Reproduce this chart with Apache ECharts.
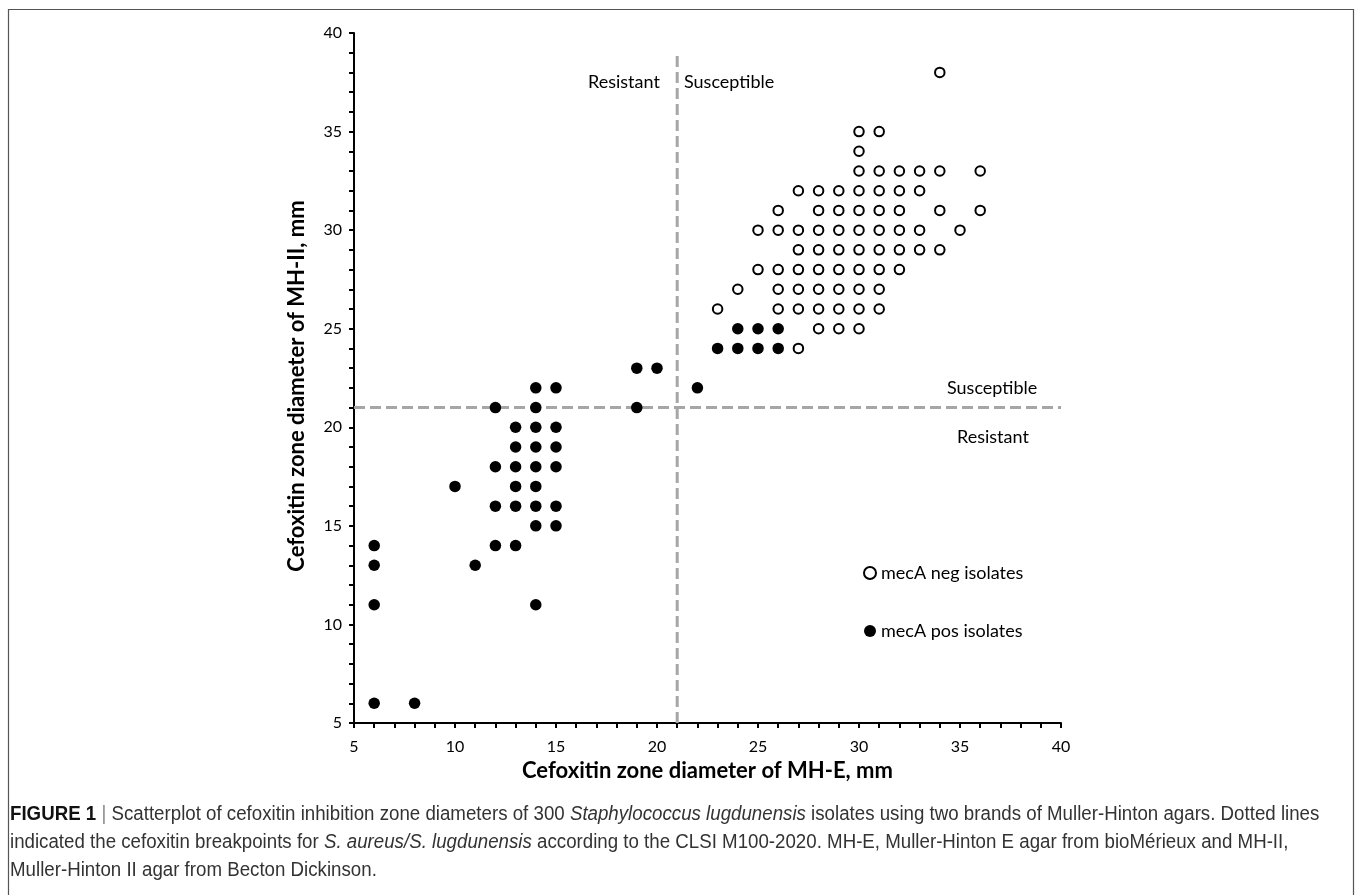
<!DOCTYPE html>
<html>
<head>
<meta charset="utf-8">
<script src="https://cdn.jsdelivr.net/npm/echarts@6/dist/echarts.min.js"></script>
<style>
html,body{margin:0;padding:0;background:#fff;}
#chart{width:1358px;height:895px;}
</style>
</head>
<body>
<div id="chart"></div>
<script>
// ---- data (zone diameters, mm) ----
const negX = [34,
  30,31,
  30,
  30,31,32,33,34,36,
  27,28,29,30,31,32,33,
  26,28,29,30,31,32,34,36,
  25,26,27,28,29,30,31,32,33,35,
  27,28,29,30,31,32,33,34,
  25,26,27,28,29,30,31,32,
  24,26,27,28,29,30,31,
  23,26,27,28,29,30,31,
  28,29,30,
  27];
const negY = [38,
  35,35,
  34,
  33,33,33,33,33,33,
  32,32,32,32,32,32,32,
  31,31,31,31,31,31,31,31,
  30,30,30,30,30,30,30,30,30,30,
  29,29,29,29,29,29,29,29,
  28,28,28,28,28,28,28,28,
  27,27,27,27,27,27,27,
  26,26,26,26,26,26,26,
  25,25,25,
  24];
const posX = [6,8, 6,14, 6,11, 6,12,13, 14,15, 12,13,14,15, 10,13,14, 12,13,14,15, 13,14,15, 13,14,15, 12,14,19, 14,15,22, 19,20, 23,24,25,26, 24,25,26];
const posY = [6,6, 11,11, 13,13, 14,14,14, 15,15, 16,16,16,16, 17,17,17, 18,18,18,18, 19,19,19, 20,20,20, 21,21,21, 22,22,22, 23,23, 24,24,24,24, 25,25,25];
const breakpointMHE = 21;   // x breakpoint
const breakpointMHII = 21;  // y breakpoint
const axisMin = 5, axisMax = 40, verticalLineTop = 39;
const xTitle = 'Cefoxitin zone diameter of MH-E, mm';
const yTitle = 'Cefoxitin zone diameter of MH-II, mm';
const seriesNames = ['mecA neg isolates', 'mecA pos isolates'];

const zip = (a, b) => a.map((v, i) => [v, b[i]]);
const FONT = 'Lato, "Open Sans", sans-serif';
const CAP_FONT = '"Liberation Sans Narrow", "Liberation Sans", Arial, sans-serif';

const chart = echarts.init(document.getElementById('chart'), null, {renderer: 'canvas'});
const axisCommon = {
  type: 'value', min: axisMin, max: axisMax, interval: 5,
  axisLine: {show: true, onZero: false, lineStyle: {color: '#000', width: 2}},
  axisTick: {show: true, length: 5, lineStyle: {color: '#000', width: 2}},
  minorTick: {show: true, splitNumber: 5, length: 5, lineStyle: {color: '#000', width: 2}},
  splitLine: {show: false},
  axisLabel: {color: '#000', fontSize: 16, fontFamily: FONT},
  nameLocation: 'middle',
  nameTextStyle: {color: '#000', fontSize: 22, fontWeight: 'bold', fontFamily: FONT}
};
const dashStyle = {color: '#A6A6A6', width: 3, type: [11, 5]};
const capRich = {
  b: {fontWeight: 'bold', fill: '#111', fontSize: 20, lineHeight: 28, fontFamily: CAP_FONT},
  bar: {fill: '#888', fontSize: 20, lineHeight: 28, fontFamily: CAP_FONT},
  i: {fontStyle: 'italic', fill: '#333', fontSize: 20, lineHeight: 28, fontFamily: CAP_FONT}
};

chart.setOption({
  animation: false,
  backgroundColor: '#fff',
  grid: {left: 354, right: 297, top: 33, bottom: 172, containLabel: false},
  xAxis: Object.assign({}, axisCommon, {name: xTitle, nameGap: 30,
    axisLabel: Object.assign({}, axisCommon.axisLabel, {margin: 16})}),
  yAxis: Object.assign({}, axisCommon, {name: yTitle, nameGap: 46,
    nameTextStyle: Object.assign({}, axisCommon.nameTextStyle, {padding: [0, 16, 0, 0]}),
    axisLabel: Object.assign({}, axisCommon.axisLabel, {margin: 12})}),
  legend: {
    orient: 'vertical', left: 858, top: 557, itemGap: 36,
    itemWidth: 12, itemHeight: 12,
    textStyle: {color: '#000', fontSize: 18, fontFamily: FONT, lineHeight: 22},
    data: seriesNames
  },
  series: [
    {type: 'line', silent: true, symbol: 'none', z: 1,
     data: [[breakpointMHE, axisMin], [breakpointMHE, verticalLineTop]], lineStyle: dashStyle},
    {type: 'line', silent: true, symbol: 'none', z: 1,
     data: [[axisMin, breakpointMHII], [axisMax, breakpointMHII]], lineStyle: dashStyle},
    {name: seriesNames[0], type: 'scatter', symbol: 'emptyCircle', symbolSize: 9.5, z: 3,
     itemStyle: {color: '#000', borderColor: '#000', borderWidth: 2.8, opacity: 1},
     data: zip(negX, negY)},
    {name: seriesNames[1], type: 'scatter', symbol: 'circle', symbolSize: 11.5, z: 3,
     itemStyle: {color: '#000', opacity: 1},
     data: zip(posX, posY)}
  ],
  graphic: [
    {type: 'rect', shape: {x: 8.5, y: 9.5, width: 1345, height: 900},
     style: {fill: 'none', stroke: '#555', lineWidth: 1.2}, silent: true, z: 0},
    {type: 'text', left: 588, top: 73, style: {text: 'Resistant', fontSize: 18, fontFamily: FONT, fill: '#000'}},
    {type: 'text', left: 684, top: 73, style: {text: 'Susceptible', fontSize: 18, fontFamily: FONT, fill: '#000'}},
    {type: 'text', left: 947, top: 379, style: {text: 'Susceptible', fontSize: 18, fontFamily: FONT, fill: '#000'}},
    {type: 'text', left: 957, top: 428, style: {text: 'Resistant', fontSize: 18, fontFamily: FONT, fill: '#000'}},
    {type: 'text', x: 10, y: 800, scaleX: 0.935, style: {
      text: '{b|FIGURE 1} {bar||} Scatterplot of cefoxitin inhibition zone diameters of 300 {i|Staphylococcus lugdunensis} isolates using two brands of Muller-Hinton agars. Dotted lines\nindicated the cefoxitin breakpoints for {i|S. aureus/S. lugdunensis} according to the CLSI M100-2020. MH-E, Muller-Hinton E agar from bioMérieux and MH-II,\nMuller-Hinton II agar from Becton Dickinson.',
      fontSize: 20, lineHeight: 28, fill: '#333', fontFamily: CAP_FONT,
      rich: capRich
    }}
  ]
});
</script>
</body>
</html>
